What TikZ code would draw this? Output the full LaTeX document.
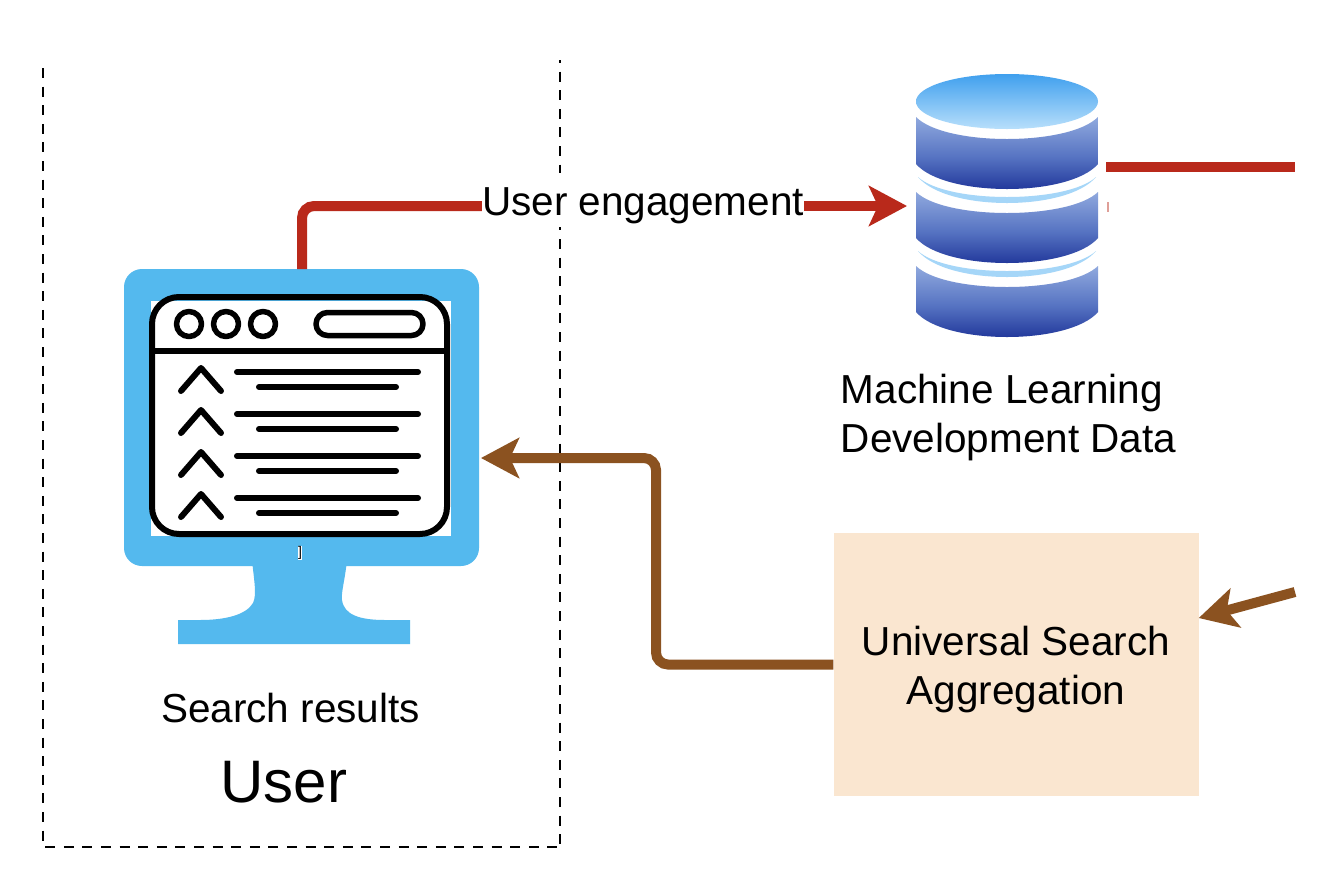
\documentclass[tikz,border=0pt]{standalone}
\usepackage{fontspec}
\setmainfont{Liberation Sans}
\usetikzlibrary{arrows.meta,shapes.misc}
\definecolor{monblue}{HTML}{54B9EE}
\definecolor{redline}{HTML}{B9291B}
\definecolor{brownline}{HTML}{8B5220}
\definecolor{boxfill}{HTML}{FAE6D0}
\definecolor{dbtop}{HTML}{90A9DE}
\definecolor{dbmid}{HTML}{5673C2}
\definecolor{dbbot}{HTML}{152A92}
\definecolor{toplight}{HTML}{B8DFFB}
\definecolor{topdark}{HTML}{40A0EE}
\definecolor{cres}{HTML}{A5D6F8}
\tikzset{
  lbl/.style={inner sep=0pt,align=center,font=\fontsize{40.5}{49}\selectfont},
  biglbl/.style={inner sep=0pt,font=\fontsize{60}{70}\selectfont},
  flow/.style={line width=10pt,rounded corners=12pt},
  redflow/.style={flow,draw=redline},
  brownflow/.style={flow,draw=brownline},
  headtip/.style={-{Stealth[length=38pt,width=40pt,inset=9pt]}},
  dashline/.style={draw=black,line width=2.6pt,dash pattern=on 10pt off 8.6pt},
  winline/.style={draw=black,line width=6pt,line cap=round,line join=round},
  dbseg/.style={top color=dbtop,bottom color=dbbot,middle color=dbmid,draw=none},
}
\newcommand{\dbsegment}[4]{% top side, top centre, bottom side, bottom centre
  \shade[dbseg] (916,#1) .. controls (945,{#1+(#2-#1)*4/3}) and (1069,{#1+(#2-#1)*4/3}) .. (1098,#1)
    -- (1098,#3) .. controls (1069,{#3+(#4-#3)*4/3}) and (945,{#3+(#4-#3)*4/3}) .. (916,#3) -- cycle;}
\newcommand{\crescent}[3]{% side, upper centre, lower centre
  \fill[cres] (918,#1) .. controls (947,{#1+(#2-#1)*4/3}) and (1067,{#1+(#2-#1)*4/3}) .. (1096,#1)
    .. controls (1067,{#1+(#3-#1)*4/3}) and (947,{#1+(#3-#1)*4/3}) .. (918,#1) -- cycle;}
\newcommand{\resultrow}[1]{%
  \draw[winline] (181,{391+#1}) -- (201,{368+#1}) -- (221,{391+#1});
  \draw[winline] (237,{372+#1}) -- (418,{372+#1});
  \draw[winline] (259,{387+#1}) -- (396,{387+#1});}
\begin{document}
\begin{tikzpicture}[x=1pt,y=-1pt]
\useasboundingbox (0,0) rectangle (1336,879);
\fill[white] (0,0) rectangle (1336,879);

% dashed user frame (no top side)
\coordinate (frameTL) at (43,68);
\coordinate (frameBL) at (43,847);
\coordinate (frameBR) at (560,847);
\coordinate (frameTR) at (560,60);
\draw[dashline] (frameTL) -- (frameBL) -- (frameBR);
\draw[dashline,dash phase=7pt] (frameTR) -- (frameBR);

% monitor
\fill[monblue] (252,560) .. controls (254,580) and (257,595) .. (253,603)
   .. controls (246,615) and (225,620) .. (200,620) -- (178,620) -- (178,644) -- (410,644) -- (410,620) -- (385,620)
   .. controls (360,620) and (344,615) .. (342,600) .. controls (341,592) and (345,580) .. (347,560) -- cycle;
\fill[monblue,rounded corners=18pt] (124,269) rectangle (479,566);
\fill[white] (151,301) rectangle (451,536);
\draw[winline,rounded corners=27pt] (152,297) rectangle (447,534);
\draw[winline,line width=5.5pt] (152,351) -- (447,351);
\foreach \cx in {189,226,263}
  \draw[winline,line width=5.5pt] (\cx,324) circle[radius=12.5pt];
\draw[winline,line width=5.5pt,rounded corners=11.5pt] (316,312.5) rectangle (423,335.5);
\foreach \dy in {0,42,84,126} {\resultrow{\dy}}
\node[fill=white,inner sep=0.3pt,font=\fontsize{14}{14}\selectfont] (glitch) at (300,553) {]};

% database
\fill[white] (916,74) rectangle (1098,337);
\shade[top color=topdark,bottom color=toplight,draw=none] (1007,101.5) ellipse[x radius=91pt,y radius=27.5pt];
\dbsegment{117}{139}{164}{189}
\crescent{177}{197}{203}
\dbsegment{192}{213}{238}{263}
\crescent{251}{271}{277}
\dbsegment{266}{287}{312}{337}
\fill[redline!45] (1106.5,202) rectangle (1108.5,212);
\node[minimum width=182pt,minimum height=263pt,inner sep=0pt] (db) at (1007,205.5) {};

% aggregation box
\node[fill=boxfill,minimum width=365pt,minimum height=263pt,inner sep=0pt] (agg) at (1016,664.5) {};
\node[lbl] (aggtext) at (1016,670) {Universal Search\\Aggregation};

% labels
\node[lbl,align=left] (mltext) at (1008.5,417.5) {Machine Learning\\Development Data};
\node[lbl] (searchtext) at (290.5,708) {Search results};
\node[biglbl] (usertext) at (284,782) {User};

% connectors
\coordinate (monTop) at (302,269);
\coordinate (monRight) at (481,458);
\coordinate (dbLeft) at (907,206);
\coordinate (dbOut) at (1106,167);
\coordinate (redEnd) at (1295,167);
\coordinate (brownStart) at (1295,592);
\fill[white] (482,172.5) rectangle (804,226.5);
\node[inner sep=0pt,minimum width=322pt,font=\fontsize{40.5}{49}\selectfont] (engage) at (643,206) {User engagement};
\draw[redflow] (monTop) |- (engage.west |- dbLeft);
\draw[redflow,rounded corners=0pt,headtip] (engage.east |- dbLeft) -- (dbLeft);
\draw[redflow,rounded corners=0pt] (dbOut) -- (redEnd);
\draw[brownflow,headtip] (agg.west) -- (656,664.5) -- (656,458) -- (monRight);
\draw[brownflow,rounded corners=0pt,headtip] (brownStart) -- (agg.east |- 0,618);
\end{tikzpicture}
\end{document}
